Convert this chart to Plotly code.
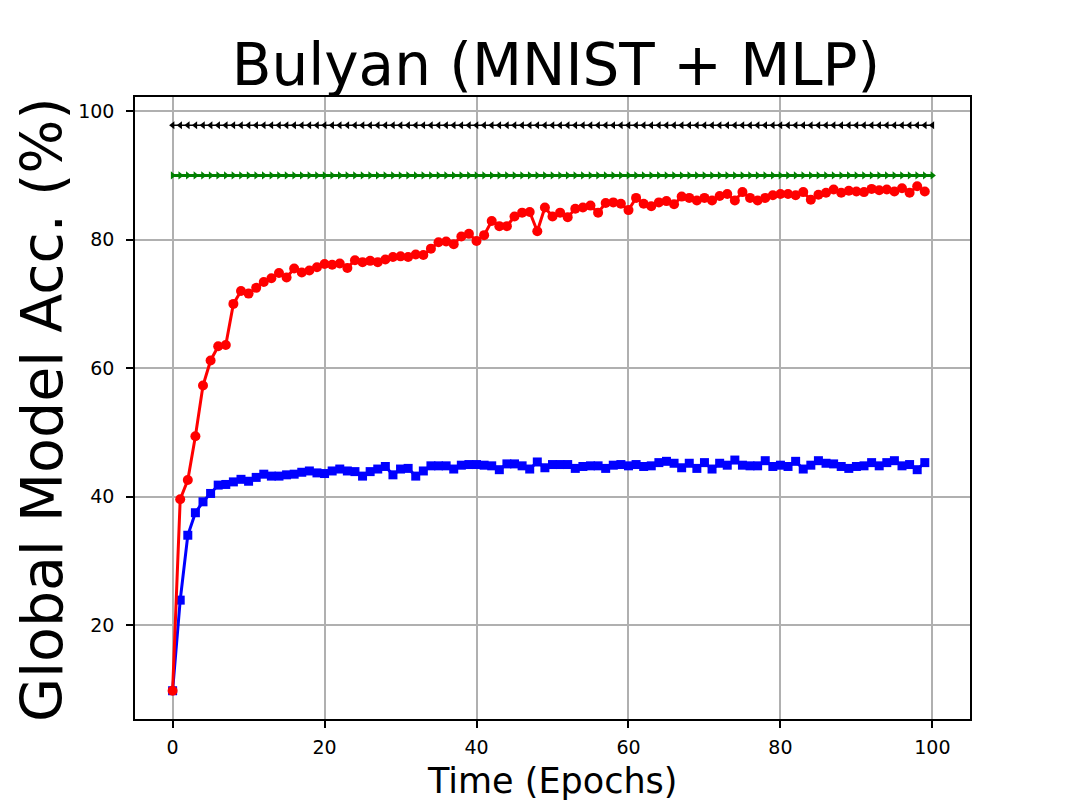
import plotly.graph_objects as go

epochs = list(range(100))
ref_epochs = list(range(101))

bulyan_red = [9.8, 39.6, 42.6, 49.4, 57.3, 61.2, 63.4, 63.6, 70.0, 72.0,
              71.6, 72.5, 73.4, 74.0, 74.8, 74.1, 75.5, 74.9, 75.2, 75.7,
              76.2, 76.1, 76.3, 75.6, 76.8, 76.5, 76.7, 76.5, 76.9, 77.3,
              77.4, 77.3, 77.7, 77.6, 78.6, 79.6, 79.7, 79.3, 80.5, 80.9,
              79.8, 80.7, 82.9, 82.1, 82.1, 83.6, 84.2, 84.3, 81.3, 85.0,
              83.6, 84.2, 83.5, 84.8, 85.0, 85.3, 84.2, 85.7, 85.8, 85.6,
              84.6, 86.5, 85.6, 85.2, 85.8, 86.0, 85.5, 86.7, 86.5, 86.1,
              86.5, 86.1, 86.8, 87.1, 86.1, 87.4, 86.5, 86.1, 86.5, 86.9,
              87.1, 87.1, 86.9, 87.4, 86.2, 87.0, 87.3, 87.8, 87.3, 87.6,
              87.5, 87.4, 87.9, 87.7, 87.8, 87.5, 88.0, 87.3, 88.3, 87.5]

bulyan_blue = [9.8, 23.9, 34.0, 37.5, 39.2, 40.5, 41.8, 41.9, 42.3, 42.7,
               42.4, 43.0, 43.5, 43.2, 43.2, 43.4, 43.5, 43.8, 44.0, 43.7,
               43.6, 44.0, 44.3, 44.0, 43.9, 43.2, 43.9, 44.3, 44.7, 43.4,
               44.3, 44.4, 43.2, 44.0, 44.8, 44.8, 44.8, 44.3, 44.9, 45.0,
               45.0, 44.9, 44.8, 44.2, 45.1, 45.1, 44.8, 44.3, 45.4, 44.5,
               45.0, 45.0, 45.0, 44.4, 44.7, 44.8, 44.8, 44.4, 44.9, 45.0,
               44.8, 45.0, 44.7, 44.8, 45.3, 45.5, 45.2, 44.5, 45.2, 44.4,
               45.3, 44.3, 45.2, 44.9, 45.7, 44.9, 44.8, 44.8, 45.6, 44.7,
               44.9, 44.7, 45.5, 44.3, 44.9, 45.6, 45.2, 45.1, 44.7, 44.4,
               44.7, 44.8, 45.3, 44.8, 45.3, 45.6, 44.8, 45.0, 44.2, 45.3]

black_ref = [97.8] * 101
green_ref = [90.0] * 101

x_ticks = [0, 20, 40, 60, 80, 100]
y_ticks = [20, 40, 60, 80, 100]

title_text = "Bulyan (MNIST + MLP)"
x_label = "Time (Epochs)"
y_label = "Global Model Acc. (%)"

FONT = "DejaVu Sans"

fig = go.Figure()
fig.add_trace(go.Scatter(x=ref_epochs, y=black_ref, mode="lines+markers",
                         line=dict(color="black", width=1.5),
                         marker=dict(symbol="triangle-left", size=7, color="black"),
                         showlegend=False))
fig.add_trace(go.Scatter(x=ref_epochs, y=green_ref, mode="lines+markers",
                         line=dict(color="#008000", width=3),
                         marker=dict(symbol="triangle-right", size=7, color="#008000"),
                         showlegend=False))
fig.add_trace(go.Scatter(x=epochs, y=bulyan_blue, mode="lines+markers",
                         line=dict(color="#0000ff", width=3),
                         marker=dict(symbol="square", size=9, color="#0000ff"),
                         showlegend=False))
fig.add_trace(go.Scatter(x=epochs, y=bulyan_red, mode="lines+markers",
                         line=dict(color="#ff0000", width=3),
                         marker=dict(symbol="circle", size=10, color="#ff0000"),
                         showlegend=False))

axis_common = dict(
    showline=True, linecolor="black", linewidth=1.5, mirror=True,
    ticks="outside", ticklen=7, tickwidth=1.5, tickcolor="black",
    showgrid=True, gridcolor="#b0b0b0", gridwidth=1.5,
    zeroline=False,
    tickfont=dict(family=FONT, size=19, color="black"),
)

fig.update_xaxes(range=[-4.95, 104.95], tickvals=x_ticks, ticklabelstandoff=3, **axis_common)
fig.update_yaxes(range=[5.4, 102.2], tickvals=y_ticks, ticklabelstandoff=8, **axis_common)

W, H = 1071, 801
fig.update_layout(
    width=W, height=H,
    margin=dict(l=127, r=W - 962, t=89, b=H - 711),
    paper_bgcolor="white", plot_bgcolor="white",
    font=dict(family=FONT, color="black"),
    title=dict(text=title_text, x=0.5116, xanchor="center",
               y=1 - 57 / H, yanchor="middle", yref="container",
               font=dict(family=FONT, size=58, color="black")),
    annotations=[
        dict(text=x_label, xref="paper", yref="paper", x=0.5, y=-(781 - 719) / 622,
             xanchor="center", yanchor="middle", showarrow=False,
             font=dict(family=FONT, size=35, color="black")),
        dict(text=y_label, xref="paper", yref="paper", x=-(135 - 42) / 835, y=(719 - 410) / 622,
             xanchor="center", yanchor="middle", textangle=-90, showarrow=False,
             font=dict(family=FONT, size=57, color="black")),
    ],
)

fig.write_html("out.html")
